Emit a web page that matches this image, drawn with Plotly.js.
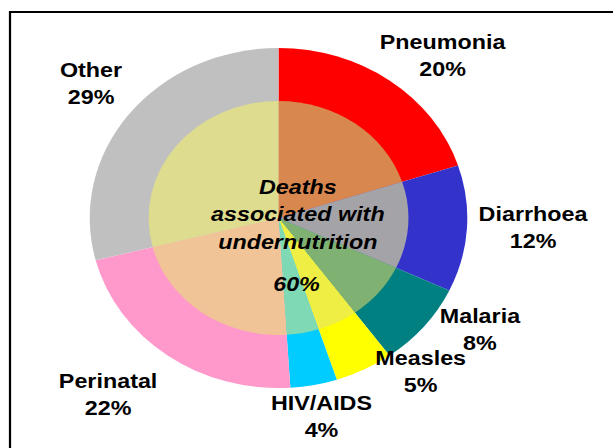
<!DOCTYPE html>
<html>
<head>
<meta charset="utf-8">
<script src="https://cdn.plot.ly/plotly-3.0.1.min.js"></script>
<style>
  html, body { margin: 0; padding: 0; background: #ffffff; overflow: hidden; }
  #chart { width: 552px; height: 448px; transform: scaleX(1.1105); transform-origin: 0 0; }
</style>
</head>
<body>
<div id="chart"></div>
<script>
// ---- data ----
const categories = ['Pneumonia', 'Diarrhoea', 'Malaria', 'Measles', 'HIV/AIDS', 'Perinatal', 'Other'];
const shares = [20, 12, 8, 5, 4, 22, 29];
const outerColors = ['#FF0000', '#3333CC', '#008080', '#FFFF00', '#00CCFF', '#FF99CC', '#C0C0C0'];
const innerColors = ['#D8874F', '#A4A4A8', '#7FB272', '#EEEE44', '#7FD9B4', '#F0C497', '#DEDC8E'];
const centerLines = ['Deaths', 'associated with', 'undernutrition'];
const centerShare = 60;

// ---- label placement (pixels in the 613x448 picture) ----
const labelPos = [[443, 55], [533, 227], [480, 329], [421, 371], [322, 416], [108, 394], [91, 83]];

const W = 552, H = 448, VIEW_W = 613;
const labelFont = { family: 'Liberation Sans, Arial, sans-serif', size: 21, color: '#000000' };

const outer = {
  type: 'pie',
  values: shares,
  labels: categories,
  sort: false,
  direction: 'clockwise',
  rotation: 0,
  textinfo: 'none',
  hoverinfo: 'none',
  marker: { colors: outerColors, line: { width: 0 } },
  domain: { x: [80.8 / W, 420.8 / W], y: [60 / H, 400 / H] },
  showlegend: false
};

const inner = {
  type: 'pie',
  values: shares,
  labels: categories,
  sort: false,
  direction: 'clockwise',
  rotation: 0,
  textinfo: 'none',
  hoverinfo: 'none',
  marker: { colors: innerColors, line: { width: 0 } },
  domain: { x: [(250.8 - 117) / W, (250.8 + 117) / W], y: [113 / H, 347 / H] },
  showlegend: false
};

const annotations = categories.map((c, i) => ({
  xref: 'paper', yref: 'paper',
  x: labelPos[i][0] / VIEW_W, y: 1 - labelPos[i][1] / H,
  xanchor: 'center', yanchor: 'middle',
  text: '<b>' + c + '<br>' + shares[i] + '%</b>',
  showarrow: false, font: labelFont
}));

annotations.push({
  xref: 'paper', yref: 'paper',
  x: 298 / VIEW_W, y: 1 - 214 / H,
  xanchor: 'center', yanchor: 'middle',
  text: '<b><i>' + centerLines.join('<br>') + '</i></b>',
  showarrow: false, font: labelFont
});
annotations.push({
  xref: 'paper', yref: 'paper',
  x: 297 / VIEW_W, y: 1 - 283 / H,
  xanchor: 'center', yanchor: 'middle',
  text: '<b><i>' + centerShare + '%</i></b>',
  showarrow: false, font: labelFont
});

const layout = {
  width: W, height: H,
  margin: { l: 0, r: 0, t: 0, b: 0, pad: 0 },
  paper_bgcolor: '#ffffff',
  plot_bgcolor: '#ffffff',
  showlegend: false,
  annotations: annotations,
  shapes: [{
    type: 'rect', xref: 'paper', yref: 'paper', layer: 'above',
    x0: 10 / VIEW_W, x1: 1.2, y0: -0.2, y1: 1 - 12 / H,
    line: { color: '#000000', width: 2 }, fillcolor: 'rgba(0,0,0,0)'
  }]
};

Plotly.newPlot('chart', [outer, inner], layout, { staticPlot: true, displayModeBar: false });
</script>
</body>
</html>
